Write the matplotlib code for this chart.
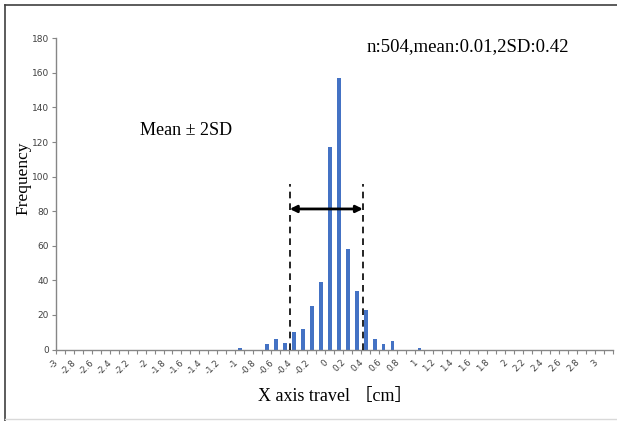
import numpy as np
import matplotlib.pyplot as plt
from matplotlib.lines import Line2D

# histogram bins (cm), 0.1 steps; Excel axis runs -3.0 .. 3.1
bin_min, bin_max, step = -3.0, 3.1, 0.1
bins = [-1.0, -0.7, -0.6, -0.5, -0.4, -0.3, -0.2, -0.1, 0.0, 0.1, 0.2, 0.3, 0.4, 0.5, 0.6, 0.7, 1.0]
freq = [1, 3, 6, 4, 10, 12, 25, 39, 117, 157, 58, 34, 23, 6, 3, 5, 1]

tick_vals = np.round(np.arange(-30, 31, 2) / 10, 1)
tick_labels = [f"{v:g}" for v in tick_vals]

# mean +/- 2SD markers as drawn on the sheet
band_left, band_right = -0.445, 0.37
stats_text = "n:504,mean:0.01,2SD:0.42"

blue = "#4472C4"
grey = "#868686"

fig = plt.figure(figsize=(6.17, 4.21), dpi=100)
ax = fig.add_axes([0.0903, 0.1698, 0.9027, 0.7392])

ax.bar(bins, freq, width=0.042, color=blue, zorder=2)

ax.set_xlim(bin_min - step / 2, bin_max + step / 2)
ax.set_ylim(0, 180)
ax.set_yticks(np.arange(0, 181, 20))
ax.tick_params(axis="y", labelsize=6.5, labelcolor="#404040", color=grey, length=3, width=0.8, pad=2)

# category boundary ticks, labels at every other category centre
bounds = np.round(np.arange(-30, 32) / 10, 1) - step / 2
ax.set_xticks(list(bounds) + [bin_max + step / 2], minor=True)
ax.set_xticks(tick_vals)
ax.set_xticklabels(tick_labels, rotation=45, ha="right", va="top", fontsize=6.2, color="#404040")
ax.tick_params(axis="x", which="major", length=0, pad=6)
ax.tick_params(axis="x", which="minor", length=3, width=0.8, color=grey)

for s in ["top", "right"]:
    ax.spines[s].set_visible(False)
for s in ["left", "bottom"]:
    ax.spines[s].set_color(grey)
    ax.spines[s].set_linewidth(1.0)

# dashed limits and double arrow
ax.plot([band_left, band_left], [0, 96], ls=(0, (4, 3)), color="black", lw=1.2, zorder=3)
ax.plot([band_right, band_right], [0, 96], ls=(0, (4, 3)), color="black", lw=1.2, zorder=3)
ax.annotate("", xy=(band_left, 81.3), xytext=(band_right, 81.3),
            arrowprops=dict(arrowstyle="<|-|>", color="black", lw=2, mutation_scale=10, shrinkA=0, shrinkB=0),
            zorder=4)

serif = ["Liberation Serif", "Noto Sans CJK JP"]
fig.text(367 / 617, 1 - 47 / 421, stats_text, fontsize=13.5, family=serif, va="center", ha="left")
fig.text(140 / 617, 1 - 131 / 421, "Mean ± 2SD", fontsize=13, family=serif, va="center", ha="left")
fig.text(23 / 617, 1 - 178 / 421, "Frequency", fontsize=12.5, family=serif, rotation=90, va="center", ha="center")
fig.text(335 / 617, 1 - 397 / 421, "X axis travel ［cm］", fontsize=13, family=serif, va="center", ha="center")

# sheet frame
fig.add_artist(Line2D([5 / 617, 5 / 617], [1 - 5 / 421, 0], transform=fig.transFigure, color="#404040", lw=1.2))
fig.add_artist(Line2D([5 / 617, 1], [1 - 5 / 421, 1 - 5 / 421], transform=fig.transFigure, color="#404040", lw=1.2))
fig.add_artist(Line2D([5 / 617, 1], [1 - 419 / 421, 1 - 419 / 421], transform=fig.transFigure, color="#d9d9d9", lw=1))

fig.savefig("out.png", dpi=100)
